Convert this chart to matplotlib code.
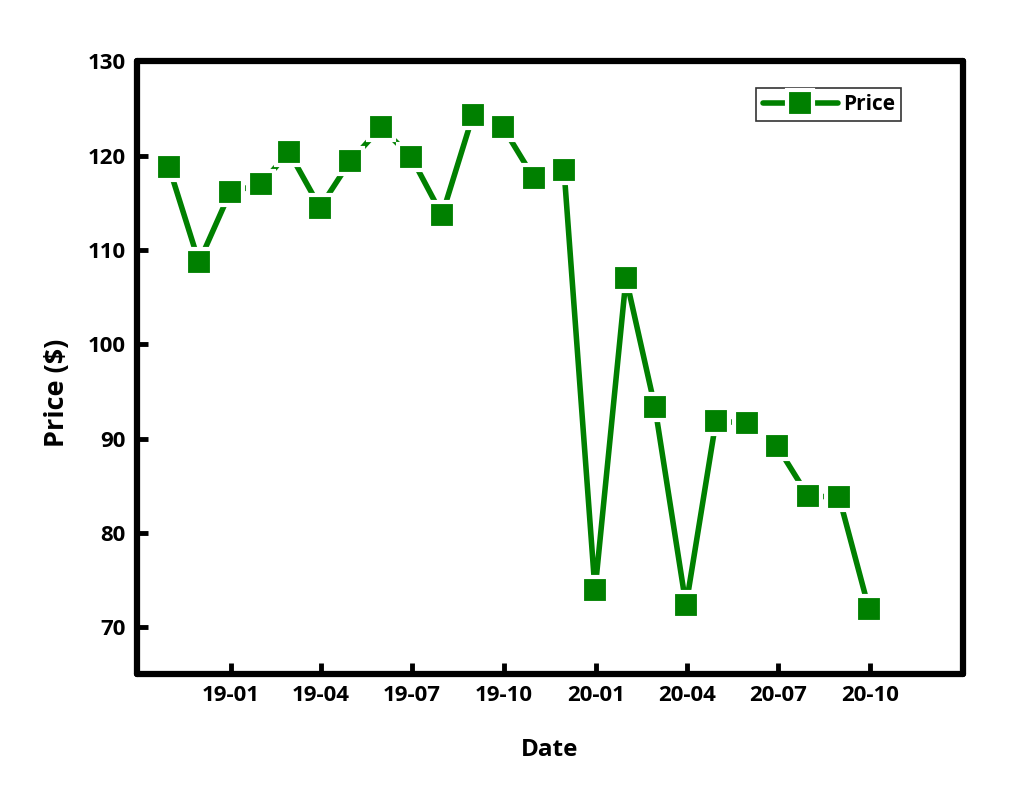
import pandas as pd
import matplotlib
matplotlib.use("Agg")
import matplotlib.pyplot as plt
import matplotlib.dates as mdates

# monthly closing prices (month-end)
dates = pd.date_range("2018-10-31", periods=24, freq="ME")
prices = [118.8, 108.7, 116.1, 117.0, 120.4, 114.5, 119.4, 123.0,
          119.9, 113.7, 124.3, 123.0, 117.6, 118.5, 73.9, 107.0,
          93.3, 72.3, 91.9, 91.6, 89.2, 83.9, 83.8, 71.9]
yticks = [70, 80, 90, 100, 110, 120, 130]
xticks = pd.date_range("2019-01-01", "2020-10-01", freq="3MS")

plt.rcParams['font.family'] = ['Open Sans', 'DejaVu Sans']
plt.rcParams['font.weight'] = 'bold'

fig = plt.figure(figsize=(10.30, 7.97), dpi=100)
ax = fig.add_axes([0.133, 0.154, 0.802, 0.769])

ax.plot(dates, prices, color='#008000', lw=4, solid_capstyle='round',
        marker='s', markersize=19, markerfacecolor='#008000',
        markeredgecolor='white', markeredgewidth=3, label='Price')

ax.set_xlim(pd.Timestamp("2018-09-29"), pd.Timestamp("2021-01-02"))
ax.set_ylim(65, 130)
ax.set_yticks(yticks)
ax.set_xticks(xticks)
ax.xaxis.set_major_formatter(mdates.DateFormatter('%y-%m'))

for s in ax.spines.values():
    s.set_linewidth(4.5)
    s.set_capstyle('round')
ax.tick_params(direction='in', length=8, width=3.5, labelsize=16, pad=8)
ax.tick_params(axis='x', pad=8)
for t in ax.get_xticklabels() + ax.get_yticklabels():
    t.set_fontweight('bold')
for ln in ax.xaxis.get_ticklines() + ax.yaxis.get_ticklines():
    ln.set_solid_capstyle('round')

ax.set_xlabel('Date', fontsize=17.5, fontweight='bold')
ax.set_ylabel('Price ($)', fontsize=19.5, fontweight='bold')
ax.xaxis.set_label_coords(0.5, -0.124, transform=ax.transAxes)
ax.yaxis.set_label_coords(-0.097, 0.46, transform=ax.transAxes)
ax.xaxis.label.set_va('center')
ax.yaxis.label.set_va('center')

leg = ax.legend(loc='upper right', bbox_to_anchor=(0.925, 0.957), fancybox=False,
                edgecolor='black', prop={'size': 15, 'weight': 'bold'},
                handlelength=3.6, borderpad=0.3, handletextpad=0.25,
                borderaxespad=0)
leg.get_frame().set_linewidth(1.2)

fig.savefig('out.png', dpi=100)
